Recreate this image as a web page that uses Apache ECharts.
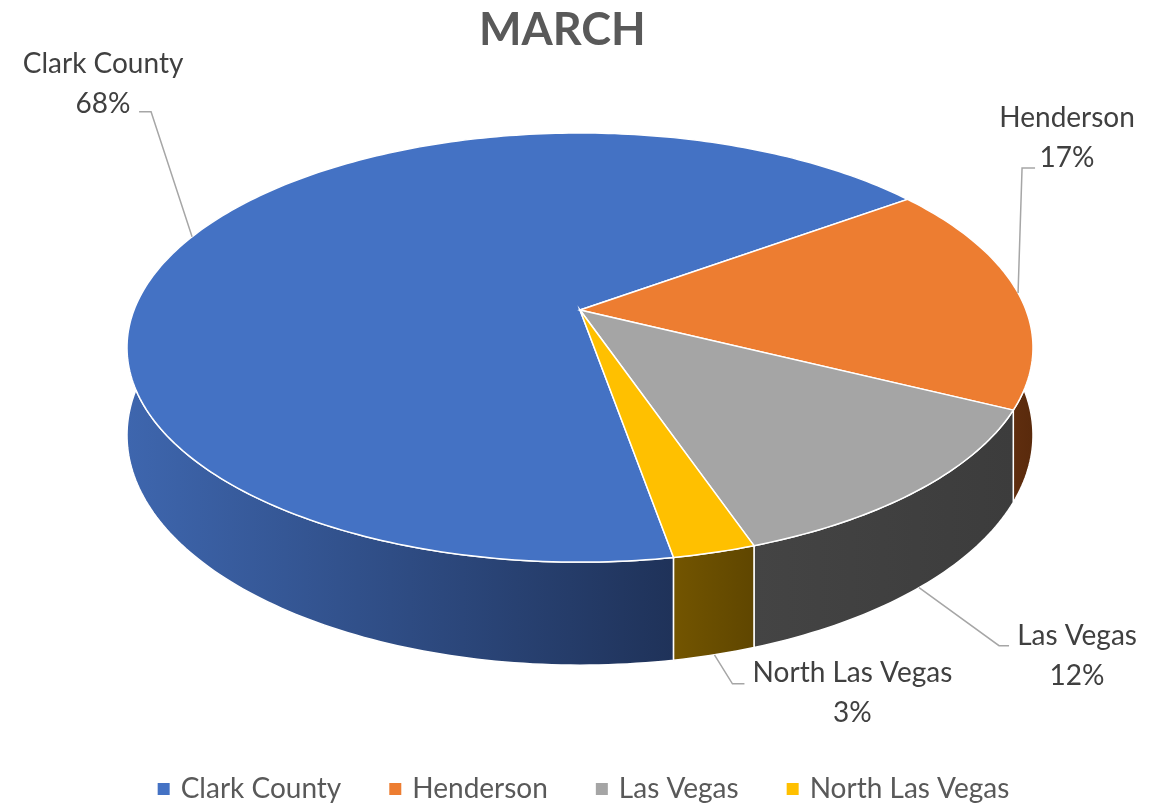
<!DOCTYPE html>
<html lang="en">
<head>
<meta charset="UTF-8">
<title>March</title>
<style>
  html, body { margin: 0; padding: 0; background: #fff; }
  #chart { width: 1167px; height: 808px; }
</style>
<script src="https://cdn.jsdelivr.net/npm/echarts@6/dist/echarts.min.js"></script>
</head>
<body>
<div id="chart"></div>
<script>
// data
var categories = ['Clark County', 'Henderson', 'Las Vegas', 'North Las Vegas'];
var shares = [67.8, 17.3, 12.4, 2.5];

// look
var topColors = ['#4472c4', '#ed7d31', '#a5a5a5', '#ffc000'];
var sideColors = [['#3e66ae', '#1f3259'], ['#643010', '#592a0c'], ['#444444', '#3c3c3c'], ['#735500', '#5f4600']];
// leader elbow / end / text centre, as offsets from the slice's anchor point
var labelLayout = [
  { edge: 'top',    elbow: [-41, -125], end: [-53, -125], text: [-89, -153] },
  { edge: 'top',    elbow: [4, -125],   end: [17, -125],  text: [49, -155] },
  { edge: 'bottom', elbow: [80, 58],    end: [90, 58],    text: [158, 68] },
  { edge: 'bottom', elbow: [18, 29],    end: [30, 29],    text: [138, 38] }
];

// fake 3d geometry: circle seen in perspective
var CX = 580, CY = 310, RX = 446, RY = 208, P = 0.175, H = 85;
var START = 80; // degrees, clockwise from east

var total = shares.reduce(function (a, b) { return a + b; }, 0);
var startAngles = [];
var acc = START;
shares.forEach(function (v) { startAngles.push(acc); acc += v / total * 360; });

function proj(deg, down) {
  var t = deg * Math.PI / 180, s = Math.sin(t), c = Math.cos(t);
  var f = 1 / (1 - P * s);
  return [CX + RX * c * f, CY + RY * s * f + (down ? H * f : 0)];
}
function arc(a1, a2, down) {
  var pts = [], n = Math.max(2, Math.ceil(Math.abs(a2 - a1)));
  for (var i = 0; i <= n; i++) pts.push(proj(a1 + (a2 - a1) * i / n, down));
  return pts;
}

function makeRender(idx) {
  return function (params, api) {
    var v = api.value(0);
    var a1 = startAngles[idx], a2 = a1 + v / total * 360;
    var children = [];

    // top face
    children.push({
      type: 'polygon', z2: 10,
      shape: { points: [[CX, CY]].concat(arc(a1, a2, false)) },
      style: { fill: topColors[idx], stroke: '#fff', lineWidth: 1.5 }
    });

    // front side, only the part that faces us
    [0, 360].forEach(function (k) {
      var lo = Math.max(a1, -12 + k), hi = Math.min(a2, 192 + k);
      if (lo >= hi) return;
      var pts = arc(lo, hi, false).concat(arc(hi, lo, true));
      children.push({
        type: 'polygon', z2: 2,
        shape: { points: pts },
        style: {
          fill: new echarts.graphic.LinearGradient(0, 0, 1, 0, [
            { offset: 0, color: sideColors[idx][0] },
            { offset: 1, color: sideColors[idx][1] }
          ]),
          stroke: '#fff', lineWidth: 1.5
        }
      });
    });

    // data label with leader line
    var lay = labelLayout[idx];
    var mid = (a1 + a2) / 2;
    var p0 = proj(mid, lay.edge === 'bottom');
    children.push({
      type: 'polyline', z2: 20,
      shape: { points: [p0, [p0[0] + lay.elbow[0], p0[1] + lay.elbow[1]], [p0[0] + lay.end[0], p0[1] + lay.end[1]]] },
      style: { stroke: '#a6a6a6', lineWidth: 1.5, fill: null }
    });
    children.push({
      type: 'text', z2: 20,
      x: p0[0] + lay.text[0], y: p0[1] + lay.text[1],
      style: {
        text: categories[idx] + '\n' + Math.round(v / total * 100) + '%',
        fill: '#404040', fontSize: 28, fontFamily: 'Lato', lineHeight: 40,
        align: 'center', verticalAlign: 'middle'
      }
    });

    return { type: 'group', children: children };
  };
}

var chart = echarts.init(document.getElementById('chart'));
var option = {
  animation: false,
  color: topColors,
  title: {
    text: 'MARCH', left: 474, top: 3,
    textStyle: { fontSize: 45, fontWeight: 'bold', color: '#595959', fontFamily: 'Lato' }
  },
  legend: {
    data: categories, bottom: 0, left: 'center',
    icon: 'rect', itemWidth: 12, itemHeight: 12, itemGap: 48,
    textStyle: { fontSize: 28, color: '#595959', fontFamily: 'Lato', padding: [0, 0, 0, 6] }
  },
  series: categories.map(function (name, i) {
    return {
      type: 'custom', name: name, coordinateSystem: 'none', silent: true,
      itemStyle: { color: topColors[i] },
      data: [shares[i]],
      renderItem: makeRender(i)
    };
  })
};
chart.setOption(option);
</script>
</body>
</html>
